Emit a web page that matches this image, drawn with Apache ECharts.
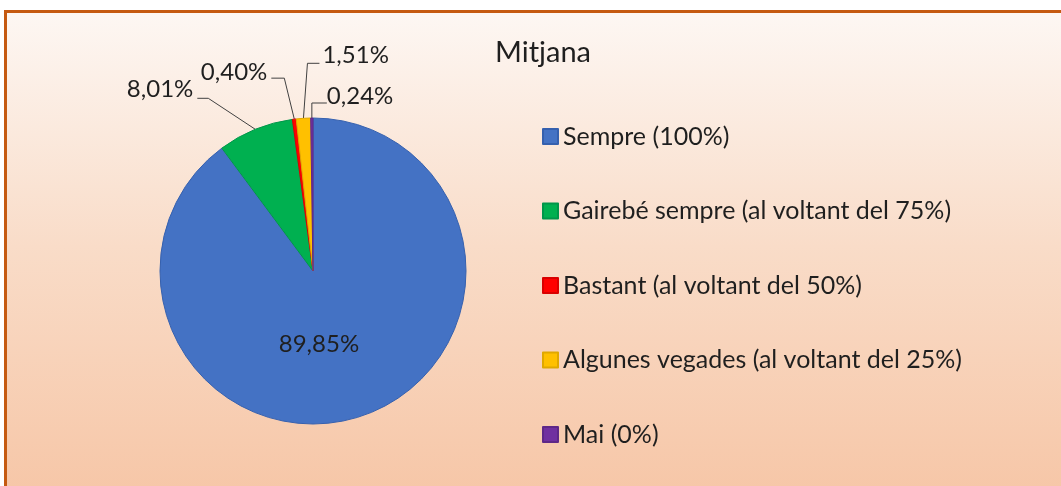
<!DOCTYPE html>
<html>
<head>
<meta charset="utf-8">
<script src="https://cdn.jsdelivr.net/npm/echarts@6/dist/echarts.min.js"></script>
<style>
html, body { margin: 0; padding: 0; width: 1061px; height: 486px; overflow: hidden; background: #ffffff; }
#frame {
  position: absolute; left: 4px; top: 10px; width: 1100px; height: 520px;
  border: 3px solid #C55A11;
  background: linear-gradient(to bottom, #FDF7F3 0%, #F9DCC8 45%, #F6C3A2 100%);
}
#chart { position: absolute; left: 0; top: 0; width: 1061px; height: 486px; }
</style>
</head>
<body>
<div id="frame"></div>
<div id="chart"></div>
<script>
const categories = [
  'Sempre (100%)',
  'Gairebé sempre (al voltant del 75%)',
  'Bastant (al voltant del 50%)',
  'Algunes vegades (al voltant del 25%)',
  'Mai (0%)'
]
const values = [89.85, 8.01, 0.40, 1.51, 0.24]
const colors = ['#4472C4', '#00B050', '#FF0000', '#FFC000', '#7030A0']
const borders = ['#3560AE', '#00964A', '#D90000', '#E0A800', '#5E2888']

// leader line shape for the outside labels, relative to the slice edge point
// [elbow, end, label anchor, align]
const leaders = [
  null,
  [[-47, -31], [-58, -31], [-62, -40], 'right'],
  [[-10, -41], [-23, -41], [-27, -47], 'right'],
  [[4, -55], [16, -55], [19, -63], 'left'],
  [[0, -15], [15, -15], [15, -22], 'left']
]

const fontFam = 'Lato, "Open Sans", sans-serif'
const chartDom = document.getElementById('chart')
const myChart = echarts.init(chartDom)

const option = {
  animation: false,
  backgroundColor: 'transparent',
  title: {
    text: 'Mitjana',
    left: 490,
    top: 33,
    textStyle: { fontFamily: fontFam, fontSize: 29, fontWeight: 'normal', color: '#1f1f1f' }
  },
  legend: {
    orient: 'vertical',
    left: 537,
    top: 119,
    itemWidth: 15,
    itemHeight: 15,
    itemGap: 49.5,
    icon: 'rect',
    textStyle: { fontFamily: fontFam, fontSize: 25, color: '#1f1f1f' },
    data: categories
  },
  series: [
    {
      type: 'pie',
      center: [313, 271],
      radius: 153,
      startAngle: 90,
      clockwise: true,
      avoidLabelOverlap: false,
      emphasis: { disabled: true },
      itemStyle: { borderWidth: 1 },
      label: {
        position: 'outside',
        fontFamily: fontFam,
        fontSize: 24,
        color: '#1f1f1f',
        formatter: p => p.value.toFixed(2).replace('.', ',') + '%'
      },
      labelLine: {
        show: true,
        length: 20,
        length2: 10,
        lineStyle: { color: '#404040', width: 1 }
      },
      labelLayout: function (p) {
        const l = leaders[p.dataIndex]
        if (!l) return { dx: -19, dy: -2 }
        const a = p.labelLinePoints[0]
        return {
          x: a[0] + l[2][0],
          y: a[1] + l[2][1],
          align: l[3],
          verticalAlign: 'middle',
          labelLinePoints: [
            [a[0], a[1]],
            [a[0] + l[0][0], a[1] + l[0][1]],
            [a[0] + l[1][0], a[1] + l[1][1]]
          ]
        }
      },
      data: categories.map((name, i) => ({
        name: name,
        value: values[i],
        itemStyle: { color: colors[i], borderColor: borders[i] },
        label: i === 0 ? { position: 'inside' } : undefined,
        labelLine: i === 0 ? { show: false } : undefined
      }))
    }
  ]
}
option && myChart.setOption(option)
</script>
</body>
</html>
